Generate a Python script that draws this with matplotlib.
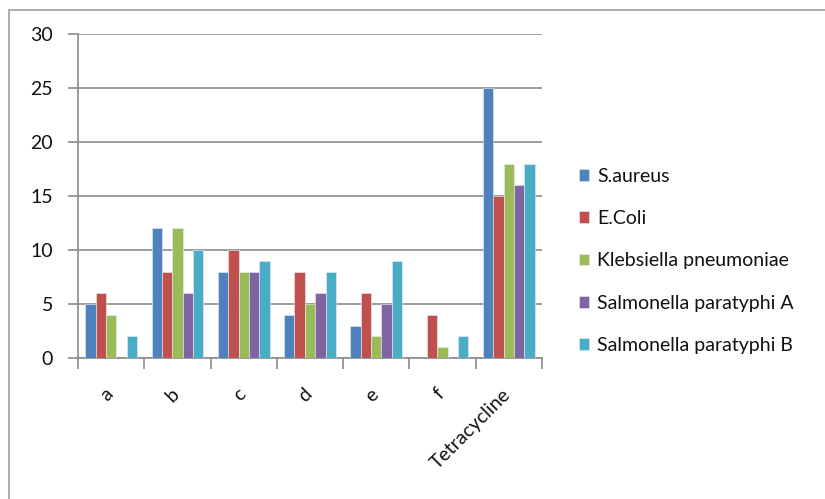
import numpy as np
import matplotlib
matplotlib.use("Agg")
import matplotlib.pyplot as plt
from matplotlib.patches import Rectangle

plt.rcParams["font.family"] = ["Lato", "DejaVu Sans"]

# Data
categories = ["a", "b", "c", "d", "e", "f", "Tetracycline"]
series_names = [
    "S.aureus",
    "E.Coli",
    "Klebsiella pneumoniae",
    "Salmonella paratyphi A",
    "Salmonella paratyphi B",
]
s_aureus = [5, 12, 8, 4, 3, 0, 25]
e_coli = [6, 8, 10, 8, 6, 4, 15]
klebsiella = [4, 12, 8, 5, 2, 1, 18]
salm_a = [0, 6, 8, 6, 5, 0, 16]
salm_b = [2, 10, 9, 8, 9, 2, 18]
y_ticks = [0, 5, 10, 15, 20, 25, 30]

colors = ["#4F81BD", "#C0504D", "#9BBB59", "#8064A2", "#4BACC6"]
grid_col = "#8C8C8C"
text_col = "#111111"

W, H = 825, 499
fig = plt.figure(figsize=(W / 100, H / 100), dpi=100)

# outer chart border (runs off the right/bottom edges)
fig.patches.append(Rectangle((9 / W, -0.1), 1.2, 1 - 10 / H + 0.1,
                             transform=fig.transFigure, fill=False,
                             edgecolor="#A6A6A6", linewidth=1.3))

ax = fig.add_axes([78 / W, 1 - 358 / H, (542 - 78) / W, (358 - 34) / H])

x = np.arange(len(categories))
n = len(series_names)
bw = 0.78 / n
all_vals = [s_aureus, e_coli, klebsiella, salm_a, salm_b]
for i, (name, vals) in enumerate(zip(series_names, all_vals)):
    ax.bar(x - 0.39 + bw * (i + 0.5), vals, width=bw, color=colors[i],
           edgecolor="#E8EEF6", linewidth=0.4, label=name, zorder=3)

ax.set_xlim(-0.5, len(categories) - 0.5)
ax.set_ylim(0, 30)
ax.set_yticks(y_ticks)
ax.tick_params(axis="y", length=7, width=1.2, color=grid_col, labelsize=14,
               labelcolor=text_col, pad=11)
ax.yaxis.grid(True, color=grid_col, linewidth=1.2, zorder=0)

# category boundary ticks on x axis
ax.set_xticks(np.arange(len(categories) + 1) - 0.5)
ax.set_xticklabels([])
ax.tick_params(axis="x", length=8, width=1.2, color=grid_col)
for xi, lab in zip(x, categories):
    ax.text(xi + 0.08, -2.55, lab, rotation=45, ha="right", va="top",
            fontsize=14, color=text_col)

for side in ["top", "right"]:
    ax.spines[side].set_visible(False)
ax.spines["left"].set_color(grid_col)
ax.spines["left"].set_linewidth(1.2)
ax.spines["bottom"].set_color(grid_col)
ax.spines["bottom"].set_linewidth(1.2)
ax.set_axisbelow(True)

leg = fig.legend(loc="upper left", bbox_to_anchor=(571 / W, 1 - 160 / H),
                 frameon=False, fontsize=14, handlelength=0.55,
                 handleheight=0.55, handletextpad=0.4, labelspacing=1.3,
                 borderaxespad=0)
for t in leg.get_texts():
    t.set_color(text_col)

fig.savefig("out.png", dpi=100)
